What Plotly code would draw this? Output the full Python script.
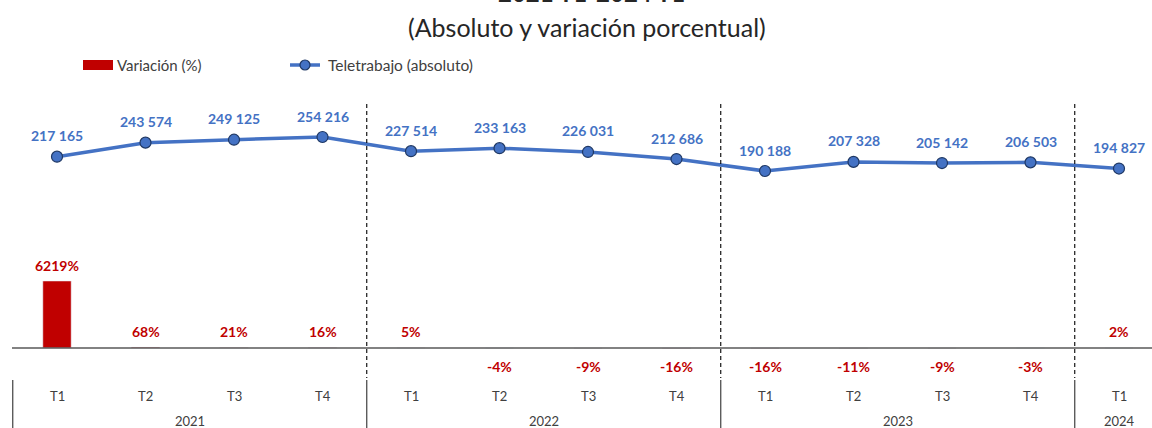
import plotly.graph_objects as go

quarters = ["T1", "T2", "T3", "T4", "T1", "T2", "T3", "T4", "T1", "T2", "T3", "T4", "T1"]
years = ["2021", "2022", "2023", "2024"]
year_spans = [(0, 3), (4, 7), (8, 11), (12, 12)]
teletrabajo = [217165, 243574, 249125, 254216, 227514, 233163, 226031, 212686,
               190188, 207328, 205142, 206503, 194827]
variacion = [6219, 68, 21, 16, 5, -4, -9, -16, -16, -11, -9, -3, 2]

W, H = 1152, 428
FONT = "Lato"
BLUE = "#4472C4"
RED = "#C00000"
GRAY = "#404040"

def py(p):
    return 1 - p / H

x = list(range(len(quarters)))

fig = go.Figure()
fig.add_trace(go.Bar(x=x, y=variacion, marker_color=RED, width=0.32,
                     name="Variación (%)", showlegend=False, yaxis="y"))
fig.add_trace(go.Scatter(x=x, y=teletrabajo, mode="lines+markers", yaxis="y2",
                         name="Teletrabajo (absoluto)", showlegend=False,
                         line=dict(color=BLUE, width=3.5),
                         marker=dict(size=11, color=BLUE, line=dict(color="#1F3864", width=1.2))))

ann = []
# line labels
for i, v in enumerate(teletrabajo):
    s = f"{v:,}".replace(",", " ")
    ann.append(dict(x=i, y=v, xref="x", yref="y2", text=s, showarrow=False,
                    yanchor="middle", yshift=21,
                    font=dict(family=FONT, size=14, color=BLUE, weight="bold")))
# bar labels
for i, v in enumerate(variacion):
    ann.append(dict(x=i, y=v, xref="x", yref="y", text=f"{v}%", showarrow=False,
                    yanchor="middle", yshift=16 if v >= 0 else -18,
                    font=dict(family=FONT, size=14, color=RED, weight="bold")))
# quarter labels
for i, q in enumerate(quarters):
    ann.append(dict(x=i, y=py(396), xref="x", yref="paper", text=q, showarrow=False,
                    yanchor="middle", font=dict(family=FONT, size=13, color=GRAY)))
# year labels
for yr, (a, b) in zip(years, year_spans):
    ann.append(dict(x=(a + b) / 2, y=py(421), xref="x", yref="paper", text=yr,
                    showarrow=False, yanchor="middle",
                    font=dict(family=FONT, size=13, color=GRAY)))
# titles
ann.append(dict(x=591 / W, y=py(9), xref="paper", yref="paper",
                text="<b>2021 T1-2024 T1</b>", showarrow=False, yanchor="bottom",
                font=dict(family=FONT, size=24, color="#262626")))
ann.append(dict(x=587 / W, y=py(27), xref="paper", yref="paper",
                text="(Absoluto y variación porcentual)", showarrow=False,
                yanchor="middle", font=dict(family=FONT, size=25, color="#262626")))
# legend texts
ann.append(dict(x=115 / W, y=py(65), xref="paper", yref="paper", text="Variación (%)",
                showarrow=False, xanchor="left", yanchor="middle",
                font=dict(family=FONT, size=15, color=GRAY)))
ann.append(dict(x=326 / W, y=py(65), xref="paper", yref="paper",
                text="Teletrabajo (absoluto)", showarrow=False, xanchor="left",
                yanchor="middle", font=dict(family=FONT, size=15.5, color=GRAY)))

shapes = []
# legend symbols
shapes.append(dict(type="rect", xref="paper", yref="paper", x0=83 / W, x1=113 / W,
                   y0=py(70), y1=py(60), fillcolor=RED, line=dict(width=0)))
shapes.append(dict(type="line", xref="paper", yref="paper", x0=290 / W, x1=320 / W,
                   y0=py(65), y1=py(65), line=dict(color=BLUE, width=3.5)))
shapes.append(dict(type="circle", xref="paper", yref="paper", x0=300 / W, x1=310 / W,
                   y0=py(70), y1=py(60), fillcolor=BLUE,
                   line=dict(color="#1F3864", width=1.2)))
# horizontal axis line
shapes.append(dict(type="line", xref="paper", yref="y", x0=12 / W, x1=1,
                   y0=0, y1=0, line=dict(color="#595959", width=1.5)))
# year separators
for b in [-0.5, 3.5, 7.5, 11.5]:
    shapes.append(dict(type="line", xref="x", yref="paper", x0=b, x1=b,
                       y0=py(380), y1=0, line=dict(color=GRAY, width=1.2)))
for b in [3.5, 7.5, 11.5]:
    shapes.append(dict(type="line", xref="x", yref="paper", x0=b, x1=b,
                       y0=py(104), y1=py(378),
                       line=dict(color="#000000", width=1.1, dash="4px,3px")))

bar_px = 67 / 6219  # px per unit
line_px = 34 / (254216 - 190188)

fig.update_layout(
    width=W, height=H,
    margin=dict(l=0, r=0, t=0, b=0),
    plot_bgcolor="white", paper_bgcolor="white",
    xaxis=dict(range=[(0 - 57) / 88.5, (W - 57) / 88.5], visible=False),
    yaxis=dict(range=[-(H - 348) / bar_px, 348 / bar_px], visible=False),
    yaxis2=dict(range=[254216 - (H - 137) / line_px, 254216 + 137 / line_px],
                overlaying="y", visible=False),
    annotations=ann, shapes=shapes, showlegend=False,
)

fig.write_html("out.html", config={"displayModeBar": False},
               post_script="document.body.style.margin='0';document.body.style.overflow='hidden';")
